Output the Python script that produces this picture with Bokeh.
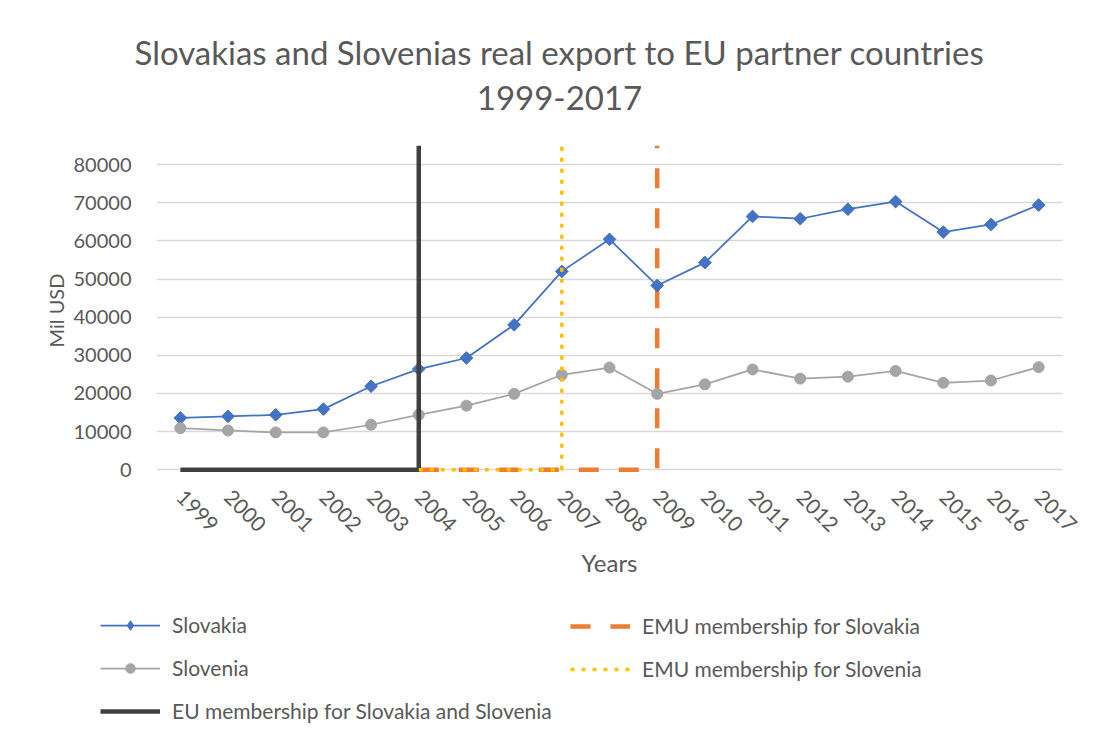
import math
from bokeh.plotting import figure
from bokeh.models import (ColumnDataSource, Legend, LegendItem, FixedTicker,
                          BasicTickFormatter, Range1d, Label)
from bokeh.embed import file_html
from bokeh.resources import INLINE

# ---- data ----
title_lines = ["Slovakias and Slovenias real export to EU partner countries", "1999-2017"]
years = [1999, 2000, 2001, 2002, 2003, 2004, 2005, 2006, 2007, 2008,
         2009, 2010, 2011, 2012, 2013, 2014, 2015, 2016, 2017]
slovakia = [13600, 14000, 14400, 15900, 21900, 26400, 29300, 38000, 52000, 60400,
            48300, 54300, 66400, 65800, 68300, 70300, 62300, 64300, 69400]
slovenia = [10900, 10300, 9800, 9800, 11800, 14400, 16800, 19900, 24900, 26800,
            19900, 22400, 26300, 23900, 24400, 25900, 22800, 23400, 26900]
eu_x = [1999, 2004, 2004]
eu_y = [0, 0, 85000]
emu_sk_x = [2004, 2009, 2009]
emu_sk_y = [0, 0, 85000]
emu_si_x = [2004, 2007, 2007]
emu_si_y = [0, 0, 85000]
y_ticks = [0, 10000, 20000, 30000, 40000, 50000, 60000, 70000, 80000]

FONT = "Lato"
TXT = "#595959"
C_SK, C_SI, C_EU, C_EMU_SK, C_EMU_SI = "#4472C4", "#A5A5A5", "#404040", "#ED7D31", "#FFC000"
W = 1102

# ---- title strip ----
TH = 120
tf = figure(width=W, height=TH, output_backend="svg", toolbar_location=None,
            x_range=Range1d(0, W), y_range=Range1d(0, TH),
            min_border=0, x_axis_type=None, y_axis_type=None)
tf.outline_line_color = None
tf.grid.visible = False
tf.title.text = ""
for txt, yy in zip(title_lines, [TH - 51, TH - 97]):
    tf.add_layout(Label(x=559, y=yy, text=txt, text_align="center",
                        text_baseline="middle", text_font=FONT,
                        text_font_size="33px", text_color=TXT))

# ---- main chart ----
p = figure(width=W, height=470, output_backend="svg", toolbar_location=None,
           x_range=Range1d(1998.5, 2017.5), y_range=Range1d(-1500, 85000),
           min_border_left=156, min_border_right=40, min_border_top=25,
           min_border_bottom=115)
p.outline_line_color = None
p.background_fill_color = "white"
p.border_fill_color = "white"
p.title.text = ""

src_sk = ColumnDataSource(dict(x=years, y=slovakia))
src_si = ColumnDataSource(dict(x=years, y=slovenia))

p.line(emu_sk_x, emu_sk_y, line_color=C_EMU_SK, line_width=4.5, line_dash="20 20")
p.line("x", "y", source=src_sk, line_color=C_SK, line_width=1.75)
p.scatter("x", "y", source=src_sk, marker="square", size=9, angle=math.pi / 4,
          fill_color=C_SK, line_color=C_SK)
p.line("x", "y", source=src_si, line_color=C_SI, line_width=1.75)
p.scatter("x", "y", source=src_si, marker="circle", size=11, fill_color=C_SI, line_color=C_SI)
p.line(eu_x, eu_y, line_color=C_EU, line_width=4.5)
p.line(emu_si_x, emu_si_y, line_color=C_EMU_SI, line_width=3.5, line_dash="4 7")

p.xaxis.ticker = FixedTicker(ticks=years)
p.xaxis.major_label_orientation = -math.pi / 4
p.xaxis.axis_line_color = None
p.xaxis.major_tick_line_color = None
p.xaxis.minor_tick_line_color = None
p.xaxis.major_label_text_font = FONT
p.xaxis.major_label_text_font_size = "21px"
p.xaxis.major_label_text_color = TXT
p.xaxis.major_label_standoff = 12
p.xaxis.axis_label = "Years"
p.xaxis.axis_label_text_font = FONT
p.xaxis.axis_label_text_font_size = "24px"
p.xaxis.axis_label_text_font_style = "normal"
p.xaxis.axis_label_text_color = TXT
p.xaxis.axis_label_standoff = 6

p.yaxis.ticker = FixedTicker(ticks=y_ticks)
p.yaxis.formatter = BasicTickFormatter(use_scientific=False)
p.yaxis.axis_line_color = None
p.yaxis.major_tick_line_color = None
p.yaxis.minor_tick_line_color = None
p.yaxis.major_label_text_font = FONT
p.yaxis.major_label_text_font_size = "20px"
p.yaxis.major_label_text_color = TXT
p.yaxis.major_label_standoff = 19
p.yaxis.axis_label = "Mil USD"
p.yaxis.axis_label_text_font = FONT
p.yaxis.axis_label_text_font_size = "20px"
p.yaxis.axis_label_text_font_style = "normal"
p.yaxis.axis_label_text_color = TXT
p.yaxis.axis_label_standoff = 3

p.xgrid.grid_line_color = None
p.ygrid.grid_line_color = "#D9D9D9"
p.ygrid.grid_line_width = 1.5

# ---- legend strip ----
lf = figure(width=W, height=148, output_backend="svg", toolbar_location=None,
            x_range=Range1d(0, 1), y_range=Range1d(0, 1),
            min_border=0, x_axis_type=None, y_axis_type=None)
lf.outline_line_color = None
lf.grid.visible = False
lf.title.text = ""
nan = float("nan")

def proxy():
    return ColumnDataSource(dict(x=[nan], y=[nan]))

g_sk_l = lf.line("x", "y", source=proxy(), line_color=C_SK, line_width=1.75)
g_sk_m = lf.scatter("x", "y", source=proxy(), marker="diamond", size=13,
                    fill_color=C_SK, line_color=C_SK)
g_si_l = lf.line("x", "y", source=proxy(), line_color=C_SI, line_width=1.75)
g_si_m = lf.scatter("x", "y", source=proxy(), marker="circle", size=11,
                    fill_color=C_SI, line_color=C_SI)
g_eu = lf.line("x", "y", source=proxy(), line_color=C_EU, line_width=4.5)
g_emu_sk = lf.line("x", "y", source=proxy(), line_color=C_EMU_SK,
                   line_width=4.5, line_dash="20 20")
g_emu_si = lf.line("x", "y", source=proxy(), line_color=C_EMU_SI,
                   line_width=3.5, line_dash="4 7")

def style_legend(lg):
    lg.label_text_font = FONT
    lg.label_text_font_size = "21px"
    lg.label_text_color = TXT
    lg.glyph_width = 60
    lg.glyph_height = 24
    lg.label_height = 24
    lg.label_standoff = 12
    lg.spacing = 18
    lg.padding = 0
    lg.margin = 0
    lg.border_line_color = None
    lg.background_fill_alpha = 0

leg1 = Legend(items=[
    LegendItem(label="Slovakia", renderers=[g_sk_l, g_sk_m]),
    LegendItem(label="Slovenia", renderers=[g_si_l, g_si_m]),
    LegendItem(label="EU membership for Slovakia and Slovenia", renderers=[g_eu]),
], location=(100, 15))
leg2 = Legend(items=[
    LegendItem(label="EMU membership for Slovakia", renderers=[g_emu_sk]),
    LegendItem(label="EMU membership for Slovenia", renderers=[g_emu_si]),
], location=(570, 57))
style_legend(leg1)
style_legend(leg2)
lf.add_layout(leg1, "center")
lf.add_layout(leg2, "center")

open("out.html", "w").write(file_html([tf, p, lf], INLINE))
